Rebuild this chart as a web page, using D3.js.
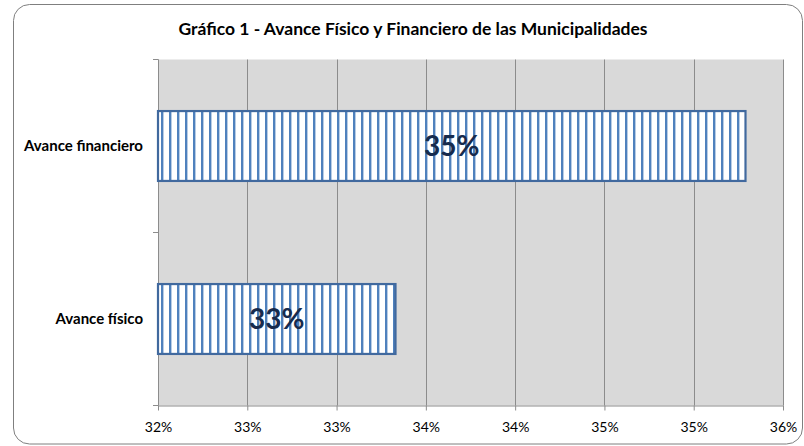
<!DOCTYPE html>
<html>
<head>
<meta charset="utf-8">
<script src="https://cdn.jsdelivr.net/npm/d3@7"></script>
<style>
  html, body { margin: 0; padding: 0; background: #fff; }
  svg { display: block; }
  text { font-family: Lato, "Open Sans", sans-serif; }
</style>
</head>
<body>
<svg id="chart" width="804" height="446"></svg>
<script>
// ---- Data ----
const title = "Gráfico 1 - Avance Físico y Financiero de las Municipalidades";
const categories = ["Avance financiero", "Avance físico"];
const values = [0.3529, 0.3333];
const valueLabels = ["35%", "33%"];
const tickValues = [0.32, 0.325, 0.33, 0.335, 0.34, 0.345, 0.35, 0.355];
const tickLabels = ["32%", "33%", "33%", "34%", "34%", "35%", "35%", "36%"];

// ---- Layout ----
const W = 804, H = 446;
const plot = { left: 158, right: 783, top: 59.5, bottom: 405.5 };

const svg = d3.select("#chart");

// pattern
const defs = svg.append("defs");
const pat = defs.append("pattern")
  .attr("id", "vstripes")
  .attr("patternUnits", "userSpaceOnUse")
  .attr("x", 161).attr("y", 0)
  .attr("width", 8).attr("height", 8);
pat.append("rect").attr("width", 8).attr("height", 8).attr("fill", "#ffffff");
pat.append("rect").attr("x", 0).attr("width", 2.4).attr("height", 8).attr("fill", "#4F81BD");

// outer rounded border
svg.append("rect")
  .attr("x", 13.5).attr("y", 4.5)
  .attr("width", 789).attr("height", 439.5)
  .attr("rx", 16).attr("ry", 16)
  .attr("fill", "#fff")
  .attr("stroke", "#7f7f7f")
  .attr("stroke-width", 1);

// title
svg.append("text")
  .attr("x", 413).attr("y", 35)
  .attr("text-anchor", "middle")
  .attr("font-size", 17.5)
  .attr("font-weight", "bold")
  .attr("fill", "#000")
  .text(title);

// scales
const x = d3.scaleLinear()
  .domain([tickValues[0], tickValues[tickValues.length - 1]])
  .range([plot.left, plot.right]);

const y = d3.scaleBand()
  .domain(categories)
  .range([plot.top, plot.bottom])
  .paddingInner(0.596)
  .paddingOuter(0.298);

// plot background
svg.append("rect")
  .attr("x", plot.left).attr("y", plot.top)
  .attr("width", plot.right - plot.left)
  .attr("height", plot.bottom - plot.top)
  .attr("fill", "#D9D9D9");

// gridlines
svg.append("g")
  .selectAll("line")
  .data(tickValues)
  .join("line")
  .attr("x1", d => Math.round(x(d)) + 0.5)
  .attr("x2", d => Math.round(x(d)) + 0.5)
  .attr("y1", plot.top)
  .attr("y2", plot.bottom)
  .attr("stroke", "#8C8C8C")
  .attr("stroke-width", 1);

// x axis
const xAxis = d3.axisBottom(x)
  .tickValues(tickValues)
  .tickFormat((d, i) => tickLabels[i])
  .tickSize(5)
  .tickSizeOuter(0);
const gx = svg.append("g")
  .attr("transform", `translate(0,${plot.bottom})`)
  .call(xAxis);
gx.select(".domain").attr("stroke", "#8C8C8C");
gx.selectAll(".tick line").attr("stroke", "#8C8C8C");
gx.selectAll(".tick text")
  .attr("font-family", "Lato, 'Open Sans', sans-serif")
  .attr("font-size", 14)
  .attr("fill", "#000")
  .attr("y", 16)
  .attr("dy", "0.75em");

// y axis: tick marks at band boundaries
const boundaries = [plot.top, (y(categories[0]) + y.bandwidth() + y(categories[1])) / 2, plot.bottom];
svg.append("g")
  .selectAll("line")
  .data(boundaries)
  .join("line")
  .attr("x1", plot.left - 5)
  .attr("x2", plot.left)
  .attr("y1", d => d)
  .attr("y2", d => d)
  .attr("stroke", "#8C8C8C");
svg.append("line")
  .attr("x1", plot.left + 0.5).attr("x2", plot.left + 0.5)
  .attr("y1", plot.top).attr("y2", plot.bottom)
  .attr("stroke", "#8C8C8C");

// category labels
svg.append("g")
  .selectAll("text")
  .data(categories)
  .join("text")
  .attr("x", 143)
  .attr("y", d => y(d) + y.bandwidth() / 2)
  .attr("dy", "0.35em")
  .attr("text-anchor", "end")
  .attr("font-size", 15)
  .attr("font-weight", "bold")
  .attr("fill", "#000")
  .text(d => d);

// bars
svg.append("g")
  .selectAll("rect")
  .data(values)
  .join("rect")
  .attr("x", x(tickValues[0]))
  .attr("y", (d, i) => y(categories[i]))
  .attr("width", d => x(d) - x(tickValues[0]))
  .attr("height", y.bandwidth())
  .attr("fill", "url(#vstripes)")
  .attr("stroke", "#41699E")
  .attr("stroke-width", 2.2);

// value labels
svg.append("g")
  .selectAll("text")
  .data(values)
  .join("text")
  .attr("x", d => (x(tickValues[0]) + x(d)) / 2)
  .attr("y", (d, i) => y(categories[i]) + y.bandwidth() / 2)
  .attr("dy", "0.36em")
  .attr("text-anchor", "middle")
  .attr("font-size", 28)
  .attr("font-weight", "bold")
  .attr("fill", "#172B4D")
  .text((d, i) => valueLabels[i]);
</script>
</body>
</html>
